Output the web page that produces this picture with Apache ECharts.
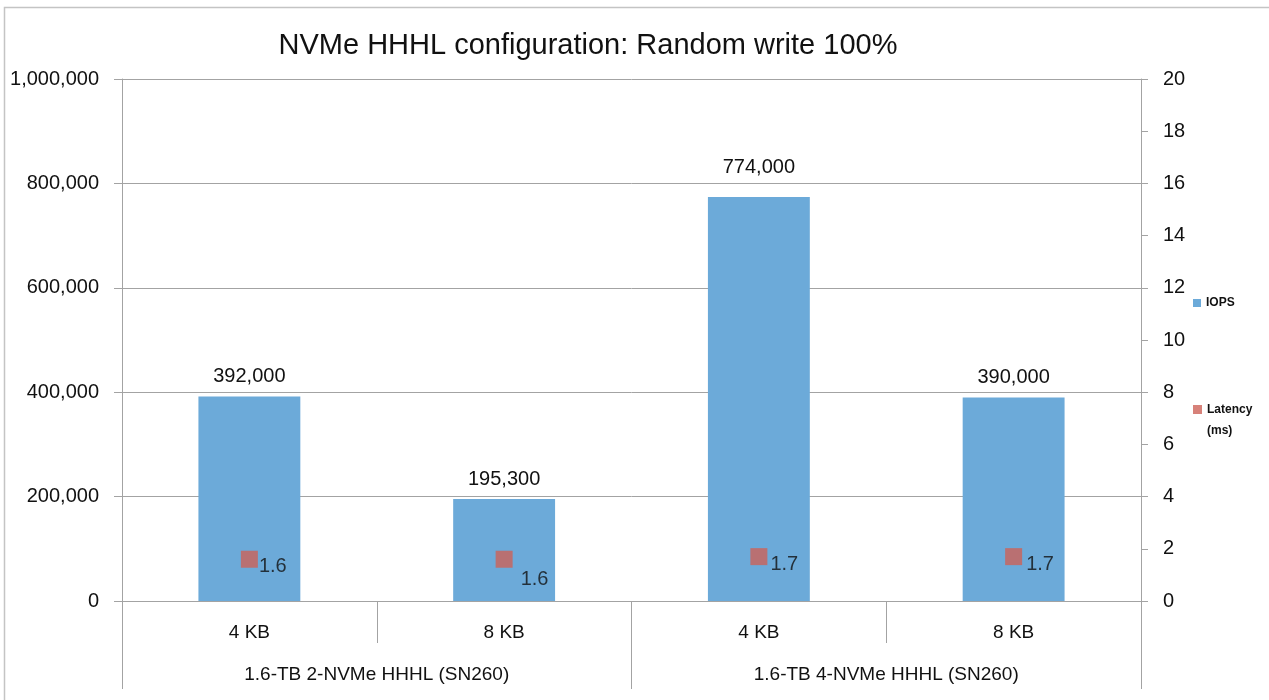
<!DOCTYPE html>
<html>
<head>
<meta charset="utf-8">
<title>NVMe HHHL configuration: Random write 100%</title>
<script src="https://cdn.jsdelivr.net/npm/echarts@6/dist/echarts.min.js"></script>
<style>
  html, body { margin: 0; padding: 0; background: #fff; }
  #chart { width: 1269px; height: 700px; }
</style>
</head>
<body>
<div id="chart"></div>
<script>
// data
const blockSizes = ['4 KB', '8 KB', '4 KB', '8 KB']
const configGroups = ['1.6-TB 2-NVMe HHHL (SN260)', '1.6-TB 4-NVMe HHHL (SN260)']
const iopsValues = [392000, 195300, 774000, 390000]
const latencyValues = [1.6, 1.6, 1.7, 1.7]

// label nudges so they sit like in the picture (style only)
const iopsLabelOffsets = [[0, 0], [0, 0], [0, -9], [0, 0]]
const latencyLabelOffsets = [[0, 7], [7, 20], [2, 8], [3, 8]]

const FONT = '"Liberation Sans", Arial, sans-serif'
const TEXT = '#111'
const LINE = '#a3a3a3'

const chart = echarts.init(document.getElementById('chart'))

chart.setOption({
  animation: false,
  textStyle: { fontFamily: FONT },
  title: {
    text: 'NVMe HHHL configuration: Random write 100%',
    left: 588,
    top: 31,
    padding: 0,
    textAlign: 'center',
    textStyle: { fontFamily: FONT, fontSize: 29, fontWeight: 'normal', color: TEXT, lineHeight: 30 }
  },
  graphic: [{
    type: 'rect',
    silent: true,
    shape: { x: 4.5, y: 7.5, width: 1300, height: 800 },
    style: { fill: 'none', stroke: '#c4c4c4', lineWidth: 1.5 }
  }],
  legend: [{
    data: ['IOPS'],
    left: 1193,
    top: 296,
    padding: 0,
    itemWidth: 8,
    itemHeight: 8,
    icon: 'rect',
    textStyle: { fontFamily: FONT, fontSize: 12, fontWeight: 'bold', color: TEXT, lineHeight: 14 }
  }, {
    data: ['Latency (ms)'],
    left: 1193,
    top: 378,
    padding: 0,
    itemWidth: 9,
    itemHeight: 9,
    icon: 'rect',
    // empty first line keeps the icon level with "Latency"
    formatter: name => '\n' + name.replace(' ', '\n'),
    textStyle: { fontFamily: FONT, fontSize: 12, fontWeight: 'bold', color: TEXT, lineHeight: 21 }
  }],
  grid: { left: 122, right: 128, top: 79, bottom: 99 },
  xAxis: [{
    type: 'category',
    data: blockSizes,
    position: 'bottom',
    axisLine: { show: true, onZero: false, lineStyle: { color: LINE, width: 1 } },
    axisTick: { show: true, length: 42, lineStyle: { color: LINE } },
    axisLabel: { margin: 22, fontSize: 19, color: TEXT, fontFamily: FONT, interval: 0 }
  }, {
    // group row below the block sizes
    type: 'category',
    data: configGroups,
    position: 'bottom',
    offset: 42,
    axisLine: { show: true, onZero: false, lineStyle: { color: '#ffffff', width: 1 } },
    axisTick: { show: true, length: 46, lineStyle: { color: LINE, width: 1 } },
    axisLabel: { margin: 22, fontSize: 19, color: TEXT, fontFamily: FONT, interval: 0 }
  }],
  yAxis: [{
    type: 'value',
    min: 0,
    max: 1000000,
    interval: 200000,
    axisLine: { show: true, lineStyle: { color: LINE } },
    axisTick: { show: true, length: 8, lineStyle: { color: LINE } },
    splitLine: { show: true, lineStyle: { color: LINE, width: 1 } },
    axisLabel: {
      margin: 23,
      fontSize: 20,
      color: TEXT,
      fontFamily: FONT,
      formatter: v => v.toLocaleString('en-US')
    }
  }, {
    type: 'value',
    min: 0,
    max: 20,
    interval: 2,
    position: 'right',
    axisLine: { show: true, lineStyle: { color: LINE } },
    axisTick: { show: true, length: 7, lineStyle: { color: LINE } },
    splitLine: { show: false },
    axisLabel: { margin: 22, fontSize: 20, color: TEXT, fontFamily: FONT }
  }],
  series: [{
    name: 'IOPS',
    type: 'bar',
    xAxisIndex: 0,
    yAxisIndex: 0,
    barWidth: '40%',
    data: iopsValues.map((v, i) => ({
      value: v,
      label: { offset: iopsLabelOffsets[i] }
    })),
    itemStyle: { color: '#6caad9' },
    label: {
      show: true,
      position: 'top',
      distance: 10,
      fontSize: 20,
      color: TEXT,
      fontFamily: FONT,
      formatter: p => p.value.toLocaleString('en-US')
    }
  }, {
    name: 'Latency (ms)',
    type: 'scatter',
    xAxisIndex: 0,
    yAxisIndex: 1,
    symbol: 'rect',
    symbolSize: 17,
    itemStyle: { color: '#cd6158' },
    data: latencyValues.map((v, i) => ({
      value: v,
      label: { offset: latencyLabelOffsets[i] }
    })),
    label: {
      show: true,
      position: 'right',
      distance: 1,
      fontSize: 20,
      color: TEXT,
      fontFamily: FONT,
      formatter: p => p.value.toFixed(1)
    }
  }]
})

window.addEventListener('resize', () => chart.resize())
</script>
</body>
</html>
